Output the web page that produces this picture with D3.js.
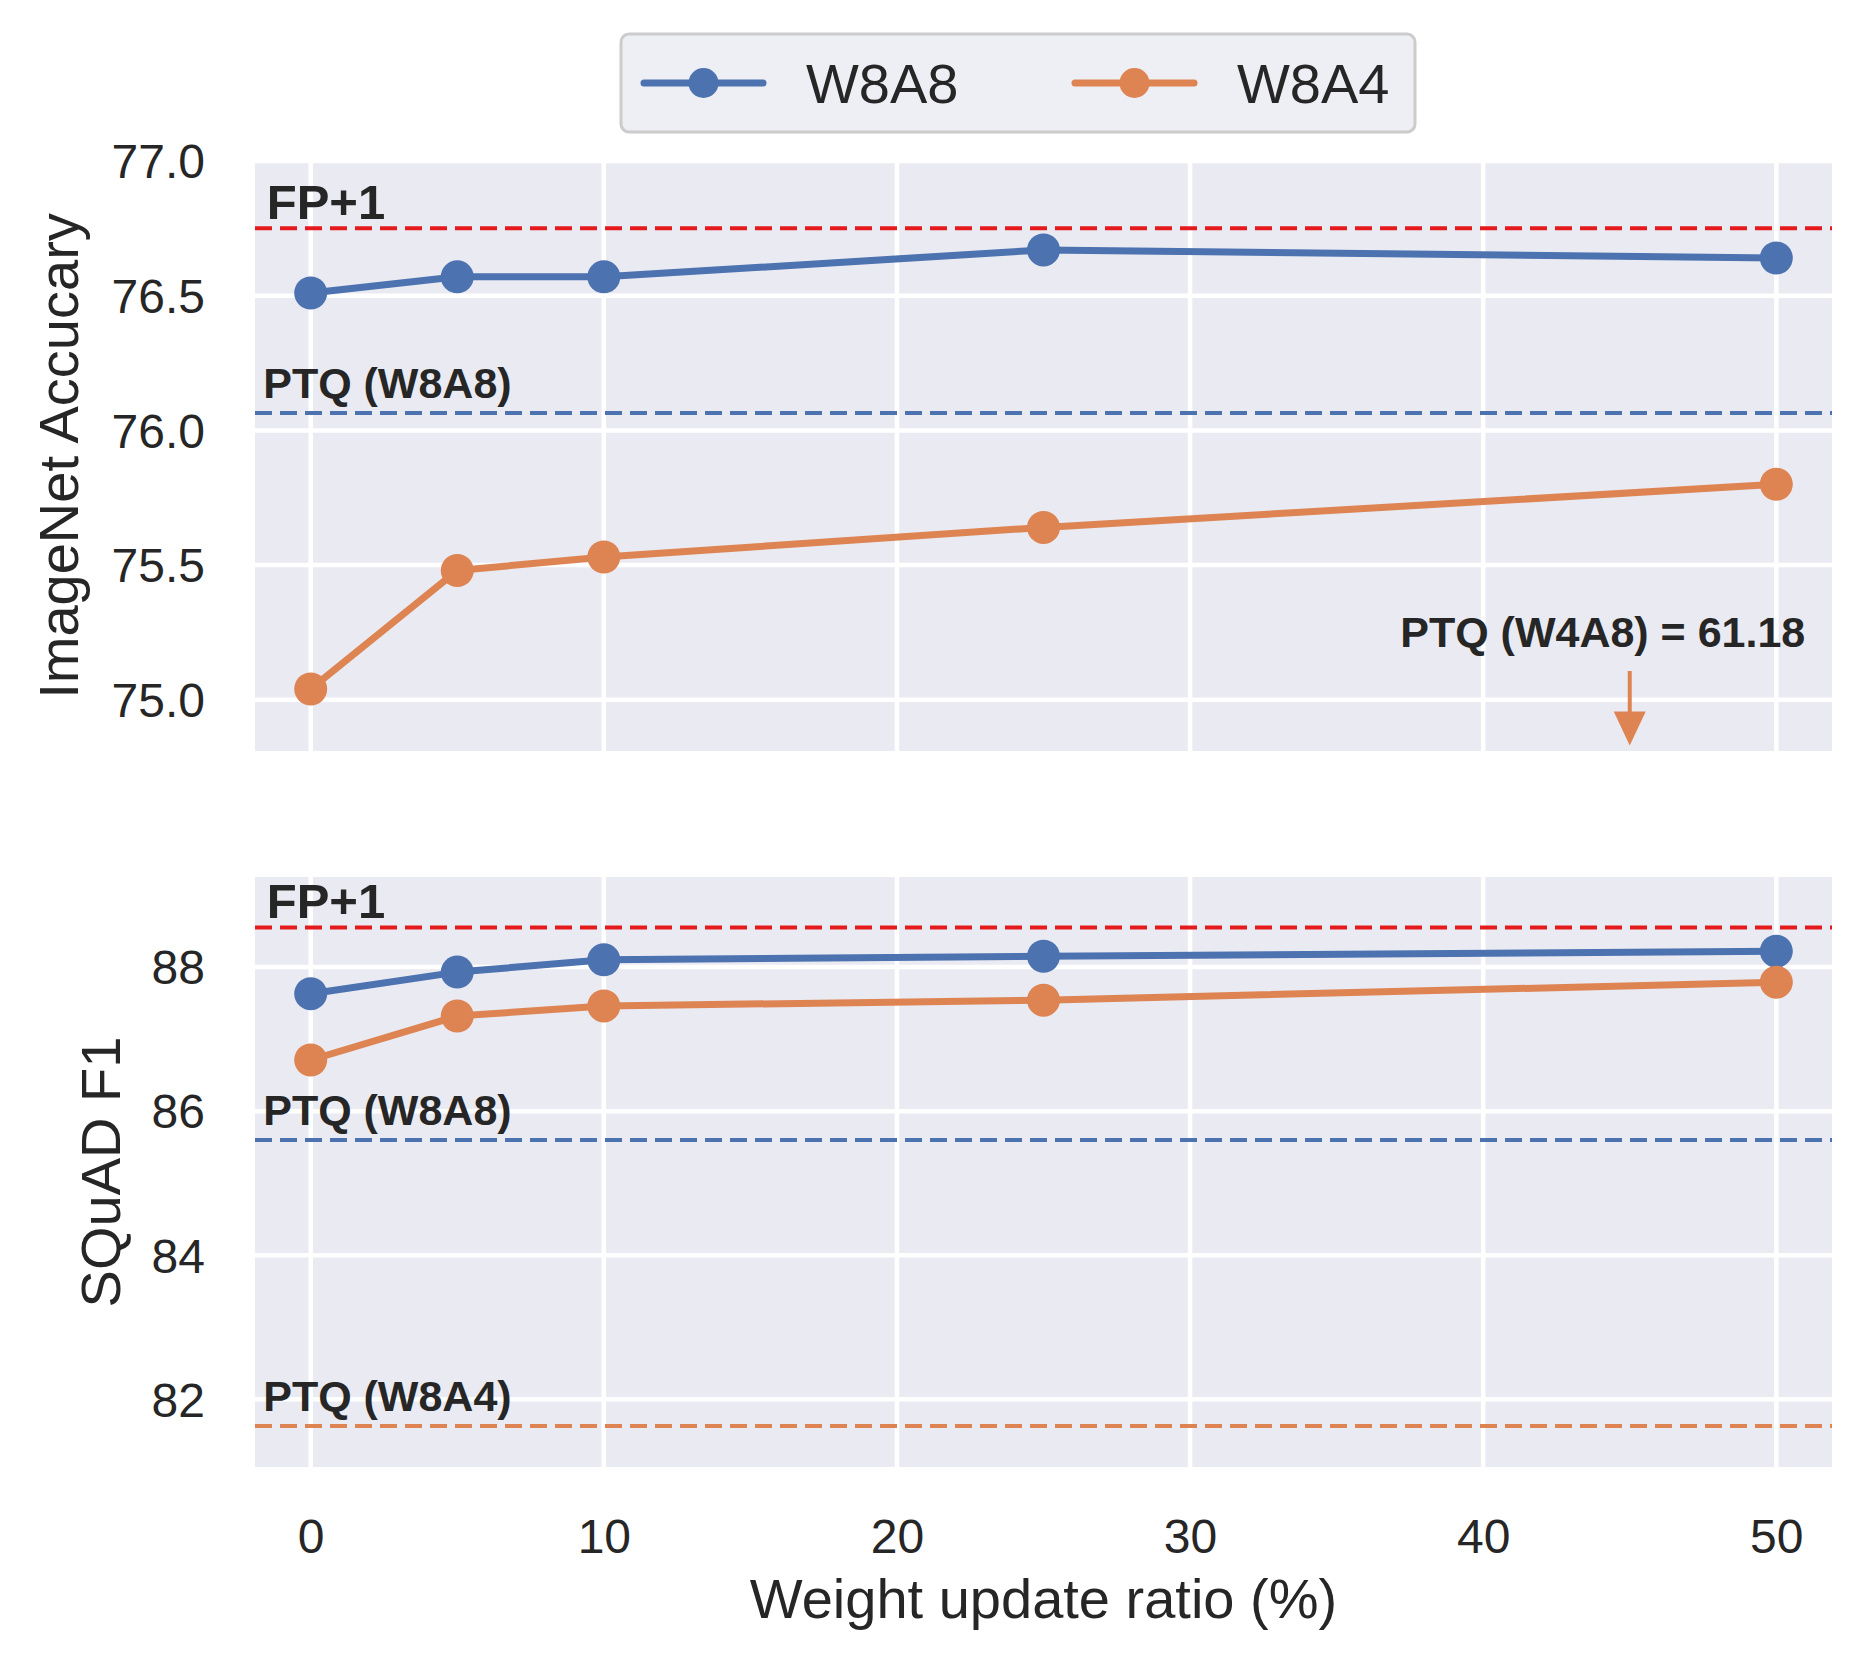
<!DOCTYPE html>
<html>
<head>
<meta charset="utf-8">
<script src="https://cdn.jsdelivr.net/npm/d3@7"></script>
<style>
  body { margin: 0; background: #fff; }
  svg text { font-family: "Liberation Sans", Arial, sans-serif; fill: #262626; }
</style>
</head>
<body>
<svg width="1869" height="1669"></svg>
<script>
// data
const ratios = [0, 5, 10, 25, 50];
const seriesNames = ["W8A8", "W8A4"];
const imagenetW8A8 = [76.51, 76.57, 76.57, 76.67, 76.64];
const imagenetW8A4 = [75.04, 75.48, 75.53, 75.64, 75.80];
const squadW8A8 = [87.63, 87.93, 88.10, 88.15, 88.22];
const squadW8A4 = [86.71, 87.32, 87.46, 87.54, 87.79];

const xTicks = [0, 10, 20, 30, 40, 50];
const imagenetTicks = [75.0, 75.5, 76.0, 76.5, 77.0];
const squadTicks = [82, 84, 86, 88];

// horizontal reference lines: [label, value, kind]
const imagenetRefs = [["FP+1", 76.75, "fp"], ["PTQ (W8A8)", 76.065, "W8A8"]];
const squadRefs = [["FP+1", 88.55, "fp"], ["PTQ (W8A8)", 85.6, "W8A8"], ["PTQ (W8A4)", 81.63, "W8A4"]];

// off-scale value, drawn as an arrow
const offscaleLabel = "PTQ (W4A8) = 61.18";
const offscaleX = 45;

const color = {W8A8: "#4c72b0", W8A4: "#dd8452", fp: "#e41a1c"};

const svg = d3.select("svg");
const left = 255, right = 1832;

const x = d3.scaleLinear().domain([-1.9, 51.9]).range([left, right]);

function panel(top, bottom, yDomain, yTicks, fmt, refs, series, ylabel, labelX) {
  const y = d3.scaleLinear().domain(yDomain).range([bottom, top]);
  const g = svg.append("g");

  g.append("rect")
    .attr("x", left).attr("y", top)
    .attr("width", right - left).attr("height", bottom - top)
    .attr("fill", "#eaeaf2");

  g.append("g").selectAll("line").data(xTicks).join("line")
    .attr("x1", d => x(d)).attr("x2", d => x(d))
    .attr("y1", top).attr("y2", bottom)
    .attr("stroke", "#fff").attr("stroke-width", 4.5);

  g.append("g").selectAll("line").data(yTicks).join("line")
    .attr("x1", left).attr("x2", right)
    .attr("y1", d => y(d)).attr("y2", d => y(d))
    .attr("stroke", "#fff").attr("stroke-width", 4.5);

  // y axis tick labels
  const ax = g.append("g")
    .attr("transform", `translate(${left},0)`)
    .call(d3.axisLeft(y).tickValues(yTicks).tickFormat(fmt).tickSize(0).tickPadding(50));
  ax.select(".domain").remove();
  ax.selectAll("text")
    .attr("font-size", 48)
    .attr("dy", "0.35em")
    .style("font-family", "'Liberation Sans', Arial, sans-serif")
    .attr("fill", "#262626");

  // reference lines
  refs.forEach(([label, val, kind]) => {
    g.append("line")
      .attr("x1", left).attr("x2", right)
      .attr("y1", y(val)).attr("y2", y(val))
      .attr("stroke", color[kind]).attr("stroke-width", 4)
      .attr("stroke-dasharray", "17,8");
    const isFp = kind === "fp";
    g.append("text")
      .attr("x", isFp ? x(-1.5) : x(-1.62))
      .attr("y", y(val) - (isFp ? 9 : 15))
      .attr("font-size", isFp ? 49 : 43)
      .attr("font-weight", "bold")
      .text(label);
  });

  const line = d3.line().x((d, i) => x(ratios[i])).y(d => y(d));
  series.forEach((vals, k) => {
    const c = color[seriesNames[k]];
    g.append("path")
      .datum(vals)
      .attr("fill", "none")
      .attr("stroke", c)
      .attr("stroke-width", 7)
      .attr("stroke-linejoin", "round")
      .attr("d", line);
    g.append("g").selectAll("circle").data(vals).join("circle")
      .attr("cx", (d, i) => x(ratios[i]))
      .attr("cy", d => y(d))
      .attr("r", 16.5)
      .attr("fill", c);
  });

  g.append("text")
    .attr("transform", `translate(${labelX},${(top + bottom) / 2}) rotate(-90)`)
    .attr("text-anchor", "middle")
    .attr("font-size", 56)
    .text(ylabel);

  return y;
}

const yTop = panel(161, 751, [74.81, 77.0], imagenetTicks, d3.format(".1f"),
  imagenetRefs, [imagenetW8A8, imagenetW8A4], "ImageNet Accucary", 78);

panel(877, 1467, [81.06, 89.25], squadTicks, d3.format("d"),
  squadRefs, [squadW8A8, squadW8A4], "SQuAD F1", 120);

// off-scale annotation in the top panel
svg.append("text")
  .attr("x", x(37.17))
  .attr("y", yTop(75.196))
  .attr("font-size", 43)
  .attr("font-weight", "bold")
  .text(offscaleLabel);

const arrowTop = yTop(75.107), arrowTip = yTop(74.83);
svg.append("line")
  .attr("x1", x(offscaleX)).attr("x2", x(offscaleX))
  .attr("y1", arrowTop).attr("y2", arrowTip - 30)
  .attr("stroke", color.W8A4).attr("stroke-width", 4);
svg.append("path")
  .attr("d", `M${x(offscaleX) - 16},${arrowTip - 34} L${x(offscaleX) + 16},${arrowTip - 34} L${x(offscaleX)},${arrowTip} Z`)
  .attr("fill", color.W8A4);

// x axis for the lower panel
const xa = svg.append("g")
  .attr("transform", `translate(0,1467)`)
  .call(d3.axisBottom(x).tickValues(xTicks).tickSize(0).tickPadding(52));
xa.select(".domain").remove();
xa.selectAll("text")
  .attr("font-size", 48)
  .style("font-family", "'Liberation Sans', Arial, sans-serif")
  .attr("fill", "#262626");

svg.append("text")
  .attr("x", (left + right) / 2)
  .attr("y", 1618)
  .attr("text-anchor", "middle")
  .attr("font-size", 56)
  .text("Weight update ratio (%)");

// legend
const legend = svg.append("g");
legend.append("rect")
  .attr("x", 621).attr("y", 34)
  .attr("width", 794).attr("height", 98)
  .attr("rx", 8)
  .attr("fill", "#eeeef5")
  .attr("stroke", "#cccccc")
  .attr("stroke-width", 3);

const legendX = [644, 1075];
seriesNames.forEach((name, k) => {
  const lx = legendX[k], c = color[name];
  legend.append("line")
    .attr("x1", lx).attr("x2", lx + 119)
    .attr("y1", 83).attr("y2", 83)
    .attr("stroke", c).attr("stroke-width", 7)
    .attr("stroke-linecap", "round");
  legend.append("circle")
    .attr("cx", lx + 59.5).attr("cy", 83).attr("r", 15).attr("fill", c);
  legend.append("text")
    .attr("x", lx + 162).attr("y", 103)
    .attr("font-size", 56)
    .text(name);
});
</script>
</body>
</html>
